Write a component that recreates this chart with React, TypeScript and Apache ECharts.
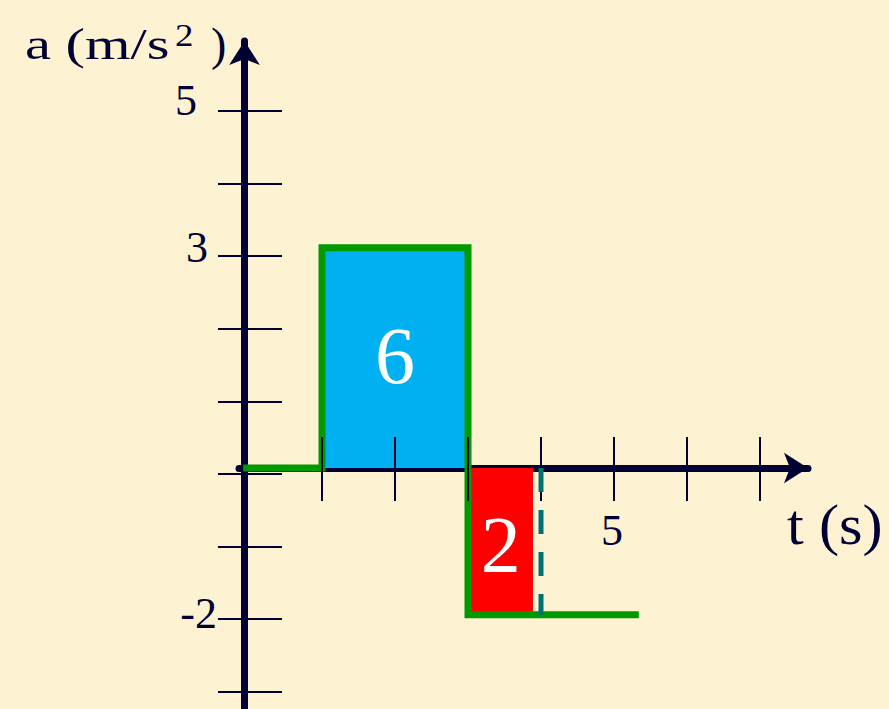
import React, { useEffect, useRef } from "react";
import * as echarts from "echarts";

// ---- data ----
const accelStep: [number, number][] = [
  [-0.08, 0], [1, 0], [1, 3], [3, 3], [3, -2], [5.34, -2],
];
const blueArea: [number, number][] = [[1, 3], [3, 3]];
const redArea: [number, number][] = [[3, -2], [3.89, -2]];
const dashedMark: [number, number][] = [[4, 0], [4, -2]];
const areaLabels: [number, number, string][] = [
  [2, 1.52, "6"],
  [3.45, -1.05, "2"],
];
const xTickValues = [1, 2, 3, 4, 5, 6, 7];
const xLabelValues = [5];
const yTickValues = [-3, -2, -1, 0, 1, 2, 3, 4, 5];
const yLabelValues = [5, 3, -2];
const yAxisTitleParts = ["a (m/s", "2", ")"];
const xAxisTitle = "t (s)";

const NAVY = "#000033";
const BG = "#FDF2D2";
const FONT = "'Liberation Serif', 'DejaVu Serif', serif";

export default function App() {
  const ref = useRef<HTMLDivElement>(null);
  useEffect(() => {
    if (!ref.current) return;
    const chart = echarts.init(ref.current, undefined, { renderer: "svg" });
    const xMin = (239 - 249) / 73;
    const xMax = (808 - 249) / 73;
    const yMax = (468 - 41) / 73.4;
    const yMin = (468 - 709) / 73.4;
    const tyMax = (474 - 41) / 72.6;
    const tyMin = (474 - 709) / 72.6;
    chart.setOption({
      animation: false,
      backgroundColor: BG,
      grid: {
        left: 239,
        right: 81,
        top: 41,
        bottom: 0,
        containLabel: false,
        outerBoundsMode: "none",
      },
      xAxis: [
        {
          type: "value",
          min: xMin,
          max: xMax,
          position: "bottom",
          axisLine: {
            show: true,
            onZero: true,
            onZeroAxisIndex: 0,
            symbol: ["none", "arrow"],
            symbolSize: [23, 24],
            lineStyle: { color: NAVY, width: 7 },
          },
          axisTick: { show: false },
          splitLine: { show: false },
          axisLabel: { show: false },
        },
        {
          type: "value",
          min: xMin,
          max: xMax,
          position: "top",
          offset: -(437 - 41),
          z: 3,
          axisLine: { show: false, onZero: false },
          axisTick: {
            show: true,
            inside: true,
            length: 64,
            customValues: xTickValues,
            lineStyle: { color: NAVY, width: 2 },
          },
          axisLabel: { show: false },
          splitLine: { show: false },
        },
        {
          type: "value",
          min: xMin,
          max: xMax,
          position: "bottom",
          offset: -(709 - 468),
          axisLine: { show: false, onZero: false },
          axisTick: { show: false },
          splitLine: { show: false },
          axisLabel: {
            show: true,
            customValues: xLabelValues,
            margin: 40,
            color: NAVY,
            fontFamily: FONT,
            fontSize: 44,
            formatter: (v: number) => "{p|" + v + "}",
            rich: {
              p: { fontFamily: FONT, fontSize: 44, color: NAVY, padding: [0, 4, 0, 0] },
            },
          },
        },
      ],
      yAxis: [
        {
          type: "value",
          min: yMin,
          max: yMax,
          axisLine: { show: false },
          axisTick: { show: false },
          axisLabel: { show: false },
          splitLine: { show: false },
        },
        {
          type: "value",
          min: tyMin,
          max: tyMax,
          position: "left",
          offset: 239 - 244.5,
          axisLine: {
            show: true,
            onZero: false,
            symbol: ["none", "arrow"],
            symbolSize: [23, 24],
            lineStyle: { color: NAVY, width: 7 },
          },
          axisTick: { show: false },
          axisLabel: { show: false },
          splitLine: { show: false },
        },
        {
          type: "value",
          min: tyMin,
          max: tyMax,
          position: "left",
          offset: 239 - 282,
          z: 3,
          axisLine: { show: false, onZero: false },
          axisTick: {
            show: true,
            inside: false,
            length: 64,
            customValues: yTickValues,
            lineStyle: { color: NAVY, width: 2 },
          },
          axisLabel: {
            show: true,
            customValues: yLabelValues,
            margin: 65,
            color: NAVY,
            fontFamily: FONT,
            fontSize: 44,
            formatter: (v: number) =>
              v === 5 ? "{f|5}" : v === 3 ? "{t|3}" : "{m|-2}",
            rich: {
              f: { fontFamily: FONT, fontSize: 44, color: NAVY, padding: [0, 20, 22, 0] },
              t: { fontFamily: FONT, fontSize: 44, color: NAVY, padding: [0, 9, 18, 0] },
              m: { fontFamily: FONT, fontSize: 44, color: NAVY, padding: [0, 0, 12, 0] },
            },
          },
          splitLine: { show: false },
        },
      ],
      series: [
        {
          type: "line",
          data: blueArea,
          xAxisIndex: 0,
          yAxisIndex: 0,
          symbol: "none",
          lineStyle: { width: 0 },
          areaStyle: { color: "#00B0F0", opacity: 1, origin: 0 },
          clip: false,
          z: 1,
        },
        {
          type: "line",
          data: redArea,
          xAxisIndex: 0,
          yAxisIndex: 0,
          symbol: "none",
          lineStyle: { width: 0 },
          areaStyle: { color: "#FF0000", opacity: 1, origin: 0 },
          clip: false,
          z: 1,
        },
        {
          type: "line",
          data: accelStep,
          xAxisIndex: 0,
          yAxisIndex: 0,
          symbol: "none",
          lineStyle: { color: "#009900", width: 7, join: "miter", cap: "butt" },
          clip: false,
          z: 2,
        },
        {
          type: "line",
          data: dashedMark,
          xAxisIndex: 0,
          yAxisIndex: 0,
          symbol: "none",
          lineStyle: { color: "#007070", width: 5, type: [24, 18], cap: "butt" },
          clip: false,
          z: 4,
        },
        {
          type: "scatter",
          data: areaLabels,
          xAxisIndex: 0,
          yAxisIndex: 0,
          symbolSize: 0,
          itemStyle: { opacity: 1 },
          z: 5,
          label: {
            show: true,
            position: "inside",
            formatter: (p: any) => p.value[2],
            color: "#FFFFFF",
            opacity: 1,
            fontFamily: FONT,
            fontSize: 80,
          },
        },
      ],
      graphic: [
        {
          type: "text",
          x: 25,
          y: 44,
          scaleX: 1.33,
          style: {
            text: yAxisTitleParts[0],
            fill: NAVY,
            font: `44px ${FONT}`,
            verticalAlign: "middle",
          },
        },
        {
          type: "text",
          x: 175,
          y: 35,
          scaleX: 1.15,
          style: {
            text: yAxisTitleParts[1],
            fill: NAVY,
            font: `32px ${FONT}`,
            verticalAlign: "middle",
          },
        },
        {
          type: "text",
          x: 211,
          y: 44,
          style: {
            text: yAxisTitleParts[2],
            fill: NAVY,
            font: `46px ${FONT}`,
            verticalAlign: "middle",
          },
        },
        {
          type: "text",
          x: 787,
          y: 525,
          scaleX: 1.06,
          style: {
            text: xAxisTitle,
            fill: NAVY,
            font: `57px ${FONT}`,
            verticalAlign: "middle",
          },
        },
      ],
    });
    return () => chart.dispose();
  }, []);
  return (
    <div
      ref={ref}
      style={{ position: "fixed", left: 0, top: 0, width: 889, height: 709, background: BG }}
    />
  );
}
